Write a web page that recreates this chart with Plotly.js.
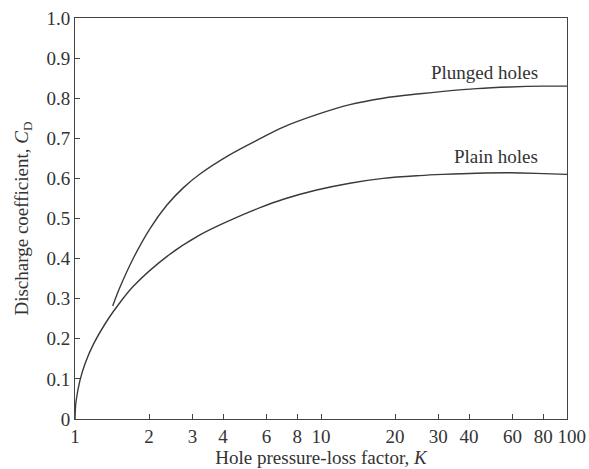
<!DOCTYPE html>
<html>
<head>
<meta charset="utf-8">
<script src="https://cdn.plot.ly/plotly-3.0.1.min.js"></script>
<style>html,body{margin:0;padding:0;background:#fff;}#chart{width:589px;height:469px;}</style>
</head>
<body>
<div id="chart"></div>
<script>
// Plain holes curve
const plainK  = [1, 1.0035, 1.0116, 1.048, 1.1, 1.187, 1.366, 1.5, 1.726, 2.36, 3.22, 4.40, 5.65, 7.03, 9.60, 13.1, 17.9, 25.2, 31.4, 42.9, 58.7, 80, 100];
const plainCD = [0, 0.026, 0.048, 0.097, 0.139, 0.186, 0.250, 0.285, 0.331, 0.405, 0.459, 0.499, 0.527, 0.548, 0.571, 0.588, 0.600, 0.607, 0.610, 0.613, 0.614, 0.612, 0.610];
// Plunged holes curve
const plungedK  = [1.423, 1.524, 1.726, 2.018, 2.36, 2.76, 3.22, 4.20, 5.65, 7.03, 9.60, 13.1, 17.9, 25.2, 31.4, 42.9, 58.7, 80, 100];
const plungedCD = [0.282, 0.329, 0.401, 0.475, 0.533, 0.577, 0.611, 0.657, 0.699, 0.728, 0.759, 0.784, 0.800, 0.811, 0.817, 0.824, 0.828, 0.830, 0.830];
// Ticks
const xTickVals = [1, 2, 3, 4, 6, 8, 10, 20, 30, 40, 60, 80, 100];
const xTickText = ["1", "2", "3", "4", "6", "8", "10", "20", "30", "40", "60", "80", "\u2002100"];
const yTickVals = [0, 0.1, 0.2, 0.3, 0.4, 0.5, 0.6, 0.7, 0.8, 0.9, 1.0];
const yTickText = ["0", "0.1", "0.2", "0.3", "0.4", "0.5", "0.6", "0.7", "0.8", "0.9", "1.0"];
const labels = ["Plunged holes", "Plain holes"];

const FONT = "Liberation Serif, Times New Roman, serif";
const FS = 19;
const lineStyle = {color: "#3a3a3a", width: 1.4, shape: "spline", smoothing: 1};

const traces = [
  {x: plainK, y: plainCD, mode: "lines", line: lineStyle, hoverinfo: "skip", showlegend: false},
  {x: plungedK, y: plungedCD, mode: "lines", line: lineStyle, hoverinfo: "skip", showlegend: false}
];

const layout = {
  width: 589, height: 469,
  margin: {l: 75, r: 22, t: 18, b: 50},
  paper_bgcolor: "#fff", plot_bgcolor: "#fff",
  font: {family: FONT, size: FS, color: "#333"},
  showlegend: false,
  xaxis: {
    type: "log", range: [-0.0001, 2.0001], tickmode: "array", tickvals: xTickVals, ticktext: xTickText,
    tickangle: 0,
    ticks: "inside", ticklen: 5, tickwidth: 1, tickcolor: "#444",
    showline: true, linecolor: "#444", linewidth: 1, mirror: true,
    showgrid: false, zeroline: false,
    tickfont: {family: FONT, size: FS, color: "#333"},
    title: {text: "Hole pressure-loss factor, <i>K</i>", font: {family: FONT, size: FS, color: "#333"}, standoff: 2}
  },
  yaxis: {
    range: [0, 1], tickmode: "array", tickvals: yTickVals, ticktext: yTickText,
    ticks: "inside", ticklen: 5, tickwidth: 1, tickcolor: "#444",
    showline: true, linecolor: "#444", linewidth: 1, mirror: true,
    showgrid: false, zeroline: false,
    tickfont: {family: FONT, size: FS, color: "#333"},
    title: {text: "Discharge coefficient, <i>C</i><sub>D</sub>", font: {family: FONT, size: FS, color: "#333"}, standoff: 12}
  },
  annotations: [
    {xref: "paper", yref: "paper", x: 0.945, y: 0.865, xanchor: "right", yanchor: "middle", text: labels[0], showarrow: false, font: {family: FONT, size: FS, color: "#333"}},
    {xref: "paper", yref: "paper", x: 0.945, y: 0.654, xanchor: "right", yanchor: "middle", text: labels[1], showarrow: false, font: {family: FONT, size: FS, color: "#333"}}
  ]
};

Plotly.newPlot("chart", traces, layout, {displayModeBar: false, staticPlot: true});
</script>
</body>
</html>
